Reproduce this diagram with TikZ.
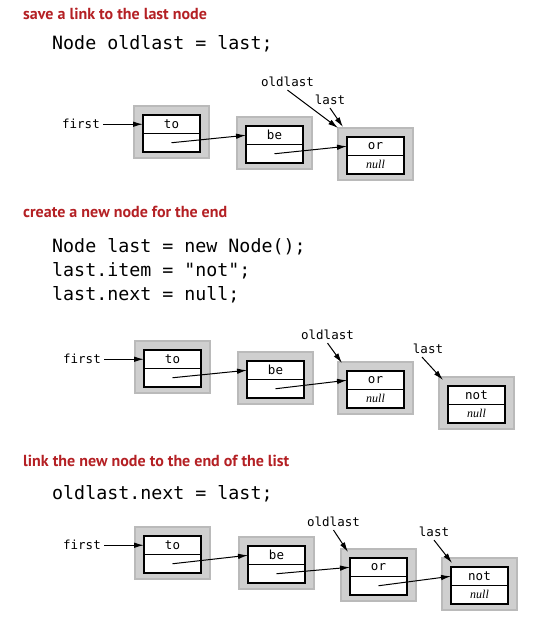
\documentclass[tikz,border=0pt]{standalone}
\usepackage{fontspec}
\usetikzlibrary{arrows.meta,positioning}
\newfontfamily\codefont{DejaVu Sans Mono}
\newfontfamily\headfont{PT Sans}
\newfontfamily\nilfont{Liberation Serif}
\definecolor{headred}{RGB}{180,32,36}
\definecolor{framegray}{RGB}{207,207,207}
\definecolor{frameedge}{RGB}{186,186,186}

\begin{document}
\begin{tikzpicture}[x=1pt,y=-1pt]

\tikzstyle{frame} = [draw=frameedge, fill=framegray, line width=1.2,
    minimum width=75, minimum height=52, inner sep=0, outer sep=0]
\tikzstyle{item} = [draw=black, line width=1.4, fill=white, inner sep=0,
    outer sep=0, minimum width=57, minimum height=18.5,
    font=\codefont\fontsize{12.5}{12.5}\selectfont]
\tikzstyle{nxt} = [item, font=\nilfont\itshape\fontsize{12}{12}\selectfont]
\tikzstyle{head} = [anchor=base west, inner sep=0, text=headred,
    font=\headfont\bfseries\fontsize{16}{18}\selectfont]
\tikzstyle{code} = [anchor=base west, inner sep=0,
    font=\codefont\fontsize{18.3}{24}\selectfont]
\tikzstyle{lbl} = [inner sep=3, font=\codefont\fontsize{12.5}{12.5}\selectfont]
\tikzstyle{ptr} = [draw=black, line width=1, -{Latex[length=10pt,width=5.5pt]}]

\useasboundingbox (0,0) rectangle (534,623);

% =========================
% save a link to the last node
% =========================
\node[head] (head1) at (23,20) {save a link to the last node};
\node[code] (code1) at (52,50) {Node oldlast = last;};

\node[frame] (to1box) at (171.5,132) {};
\node[item, below=9pt of to1box.north] (to1) {to};
\node[nxt, below=0pt of to1] (to1n) {};

\node[frame] (be1box) at (274.5,143) {};
\node[item, below=9pt of be1box.north] (be1) {be};
\node[nxt, below=0pt of be1] (be1n) {};

\node[frame] (or1box) at (375.5,154) {};
\node[item, below=9pt of or1box.north] (or1) {or};
\node[nxt, below=0pt of or1] (or1n) {null};

\node[lbl, left=40pt of to1] (first1) {first};
\node[lbl] (oldlast1) at (287.5,82) {oldlast};
\node[lbl] (last1) at (330,100) {last};

\draw[ptr] (first1) -- (to1);
\draw[ptr] (to1n.center) -- (be1.west);
\draw[ptr] (be1n.center) -- (or1.west);
\draw[ptr] (oldlast1.south) -- (or1box.north west);
\draw[ptr] (last1.south) -- ([shift={(5,-1)}]or1box.north west);

% =========================
% create a new node for the end
% =========================
\node[head] (head2) at (23,217) {create a new node for the end};
\node[code] (code2a) at (52,252) {Node last = new Node();};
\node[code] (code2b) at (52,276) {last.item = "not";};
\node[code] (code2c) at (52,300) {last.next = null;};

\node[frame] (to2box) at (172.5,367) {};
\node[item, below=9pt of to2box.north] (to2) {to};
\node[nxt, below=0pt of to2] (to2n) {};

\node[frame] (be2box) at (275.5,378) {};
\node[item, below=9pt of be2box.north] (be2) {be};
\node[nxt, below=0pt of be2] (be2n) {};

\node[frame] (or2box) at (375.5,388) {};
\node[item, below=9pt of or2box.north] (or2) {or};
\node[nxt, below=0pt of or2] (or2n) {null};

\node[frame] (not2box) at (476.5,403) {};
\node[item, below=9pt of not2box.north] (not2) {not};
\node[nxt, below=0pt of not2] (not2n) {null};

\node[lbl, left=40pt of to2] (first2) {first};
\node[lbl] (oldlast2) at (327.5,335) {oldlast};
\node[lbl] (last2) at (428,349) {last};

\draw[ptr] (first2) -- (to2);
\draw[ptr] (to2n.center) -- (be2.west);
\draw[ptr] (be2n.center) -- (or2.west);
\draw[ptr] (oldlast2.south) -- ([shift={(4,1)}]or2box.north west);
\draw[ptr] ([xshift=-6pt]last2.south) -- ([shift={(4,3)}]not2box.north west);

% =========================
% link the new node to the end of the list
% =========================
\node[head] (head3) at (23,466) {link the new node to the end of the list};
\node[code] (code3) at (52,499) {oldlast.next = last;};

\node[frame] (to3box) at (172.5,553) {};
\node[item, below=9pt of to3box.north] (to3) {to};
\node[nxt, below=0pt of to3] (to3n) {};

\node[frame] (be3box) at (276.5,563) {};
\node[item, below=9pt of be3box.north] (be3) {be};
\node[nxt, below=0pt of be3] (be3n) {};

\node[frame] (or3box) at (378.5,575) {};
\node[item, below=9pt of or3box.north] (or3) {or};
\node[nxt, below=0pt of or3] (or3n) {};

\node[frame] (not3box) at (479.5,584) {};
\node[item, below=9pt of not3box.north] (not3) {not};
\node[nxt, below=0pt of not3] (not3n) {null};

\node[lbl, left=40pt of to3] (first3) {first};
\node[lbl] (oldlast3) at (333.5,522) {oldlast};
\node[lbl] (last3) at (434,532) {last};

\draw[ptr] (first3) -- (to3);
\draw[ptr] (to3n.center) -- (be3.west);
\draw[ptr] (be3n.center) -- (or3.west);
\draw[ptr] (or3n.center) -- (not3.west);
\draw[ptr] (oldlast3.south) -- ([shift={(7,3)}]or3box.north west);
\draw[ptr] (last3.south) -- ([shift={(10,5)}]not3box.north west);

\end{tikzpicture}
\end{document}
